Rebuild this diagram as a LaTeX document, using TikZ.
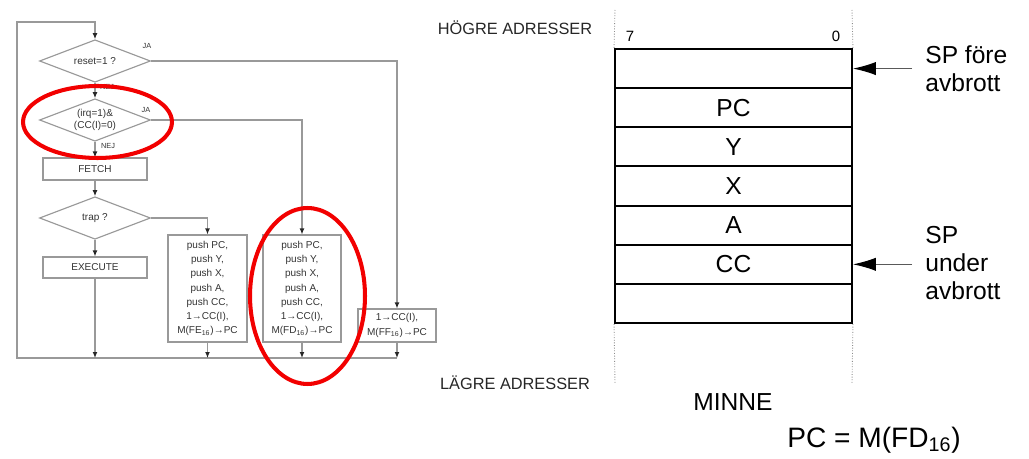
\documentclass[tikz,border=0pt]{standalone}
\usepackage{fontspec}
\setmainfont{Liberation Sans}
\usetikzlibrary{arrows.meta}
\usetikzlibrary{calc,shapes.geometric}
\colorlet{flowline}{black!40}
\colorlet{flowtext}{black!80}
\colorlet{myred}{red!95!black}
\tikzset{>={Latex[length=3.4pt,width=2.8pt,color=black!85]}}
\tikzstyle{flow}=[draw=flowline,line width=0.65pt]
\tikzset{
  decision/.style={flow,diamond,aspect=2.6,inner sep=0pt,
                   minimum width=2.22cm,minimum height=0.85cm,text=flowtext,
                   font=\fontsize{5.7}{6.8}\selectfont,align=center},
  action/.style={flow,rectangle,inner sep=0pt,text=flowtext,
                 font=\fontsize{5.7}{8.1}\selectfont,align=center},
  answer/.style={text=flowtext,inner sep=0pt,font=\fontsize{4.2}{5}\selectfont},
  cell/.style={draw,line width=1.1pt,rectangle,inner sep=0pt,
               minimum width=4.74cm,minimum height=0.783cm,
               font=\fontsize{14}{16}\selectfont},
  sp arrow/.style={draw=black!65,line width=0.6pt,-{Latex[length=13pt,width=7.5pt,color=black]}},
  sp label/.style={anchor=west,align=left,inner sep=0pt,font=\fontsize{14}{16}\selectfont},
  edge mark/.style={draw=black!45,line width=0.5pt,densely dotted},
  address/.style={inner sep=0pt,text=black!85,font=\fontsize{9.3}{11}\selectfont},
  mark ring/.style={draw=myred,line width=2.3pt}
}

\begin{document}
\begin{tikzpicture}[x=0.02cm,y=-0.02cm]
  \useasboundingbox (0,0) rectangle (1029,459);
  \def\memL{615}                % left edge of memory
  \def\memR{852}                % right edge of memory
  \def\memT{49}                 % top of memory
  \def\memH{39.15}              % cell height

  % FLOW CHART
  \node[decision] (rst)  at (95,61)  {reset=1 ?};
  \node[decision] (irq)  at (95,120) {(irq=1)\&\\(CC(I)=0)};
  \node[action,minimum width=2.08cm,minimum height=0.44cm] (fetch) at (95,169) {FETCH};
  \node[decision] (trap) at (95,218) {trap ?};
  \node[action,minimum width=2.08cm,minimum height=0.42cm] (exec) at (95,267.5) {EXECUTE};
  \node[action,minimum width=1.58cm,minimum height=2.14cm] (trapbox) at (207.5,288.5)
    {push PC,\\push Y,\\push X,\\push A,\\push CC,\\1→CC(I),\\M(FE\textsubscript{16})→PC};
  \node[action,minimum width=1.56cm,minimum height=2.14cm] (irqbox) at (302,288.5)
    {push PC,\\push Y,\\push X,\\push A,\\push CC,\\1→CC(I),\\M(FD\textsubscript{16})→PC};
  \node[action,minimum width=1.56cm,minimum height=0.66cm] (rstbox) at (397,325.5)
    {1→CC(I),\\M(FF\textsubscript{16})→PC};

  \coordinate (top) at (95,22);
  \coordinate (bl)  at (17,358);
  \coordinate (br)  at (397,358);

  \node[answer] (rstja)  at (147,46)  {JA};
  \node[answer] (rstnej) at (107,87)  {NEJ};
  \node[answer] (irqja)  at (146,110) {JA};
  \node[answer] (irqnej) at (108,146) {NEJ};

  % CONNECTORS
  \draw[flow,->] (br) -- (bl) -- (bl|-top) -- (top) -- (rst.north);
  \draw[flow,->] (rst.south) -- (irq.north);
  \draw[flow,->] (irq.south) -- (fetch.north);
  \draw[flow,->] (fetch.south) -- (trap.north);
  \draw[flow,->] (trap.south) -- (exec.north);
  \draw[flow,->] (rst.east) -| (rstbox.north);
  \draw[flow,->] (irq.east) -| (irqbox.north);
  \draw[flow,->] (trap.east) -| (trapbox.north);
  \foreach \n in {exec,trapbox,irqbox,rstbox}{
    \draw[flow,->] (\n.south) -- (\n.south|-bl);
  }

  % MEMORY
  \foreach \lbl [count=\i from 0] in {{},PC,Y,X,A,CC,{}}{
    \node[cell] (cell\i) at ({(\memL+\memR)/2},{\memT+(\i+0.5)*\memH}) {\lbl};
  }
  \draw[edge mark] (\memL,10) -- (cell0.north west);
  \draw[edge mark] (\memR,10) -- (cell0.north east);
  \draw[edge mark] (cell6.south west) -- (\memL,384);
  \draw[edge mark] (cell6.south east) -- (\memR,384);
  \node[inner sep=0pt,font=\fontsize{8.5}{10}\selectfont] (bit7) at (630,36) {7};
  \node[inner sep=0pt,font=\fontsize{8.5}{10}\selectfont] (bit0) at (836,36) {0};

  \node[address] (high) at (515,28)  {HÖGRE ADRESSER};
  \node[address] (low)  at (515,383) {LÄGRE ADRESSER};
  \node[inner sep=0pt,font=\fontsize{14}{16}\selectfont] (minne) at (733,402) {MINNE};
  \node[inner sep=0pt,font=\fontsize{16}{18}\selectfont] (formula) at (874,440)
    {PC = M(FD\textsubscript{16})};

  % STACK POINTER
  \coordinate (spa) at (912,0 |- cell0.east);
  \coordinate (spb) at (912,0 |- cell5.east);
  \draw[sp arrow] (spa) -- (cell0.east);
  \draw[sp arrow] (spb) -- (cell5.east);
  \node[sp label] (spfore)  at (925,68.5) {SP före\\avbrott};
  \node[sp label] (spunder) at (925,263)  {SP\\under\\avbrott};

  % MARKINGS
  \draw[mark ring] (97.5,122) ellipse [x radius=1.49cm,y radius=0.72cm];
  \draw[mark ring] (307.5,296) ellipse [x radius=1.15cm,y radius=1.76cm];
\end{tikzpicture}
\end{document}
